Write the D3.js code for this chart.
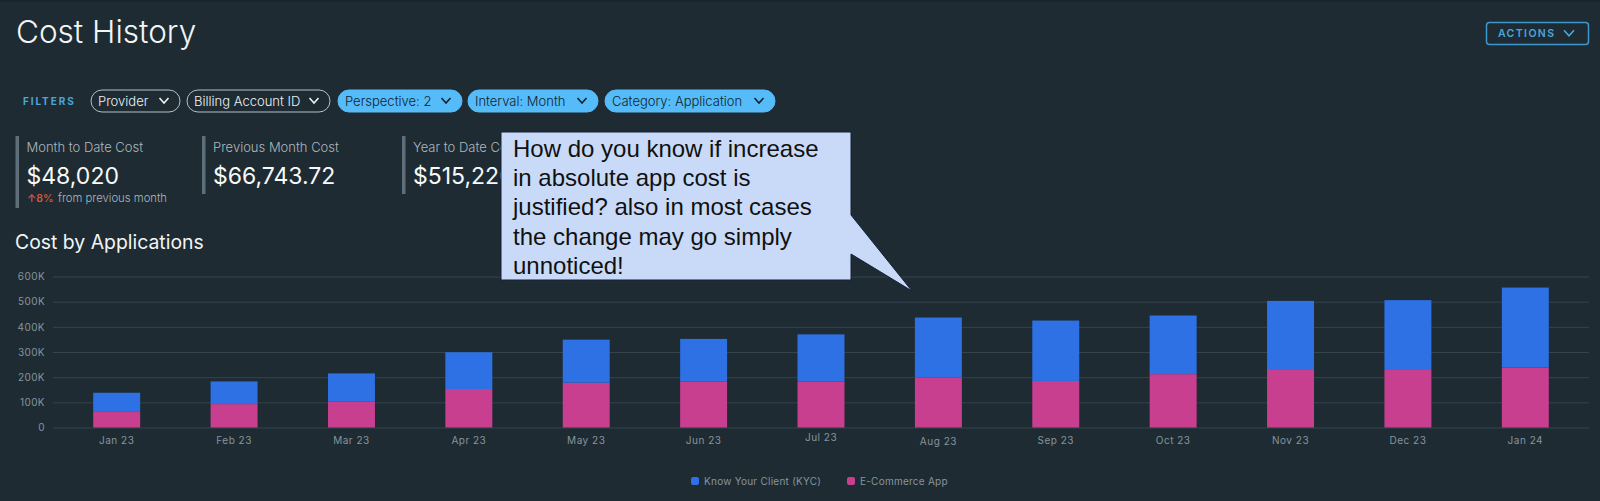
<!DOCTYPE html>
<html><head><meta charset="utf-8">
<script src="https://cdn.jsdelivr.net/npm/d3@7"></script>
<style>html,body{margin:0;padding:0;background:#1e2b33;overflow:hidden}svg{display:block}text{font-family:Inter,"Open Sans",sans-serif}</style>
</head><body><div id="c"></div>
<script>
const months=["Jan 23","Feb 23","Mar 23","Apr 23","May 23","Jun 23","Jul 23","Aug 23","Sep 23","Oct 23","Nov 23","Dec 23","Jan 24"];
const ecommerce=[62,93,104,153,178,182,182,199,185,212,232,232,238];
const kyc=[76,90,111,146,171,170,188,238,240,233,271,274,318];
const seriesNames=["E-Commerce App","Know Your Client (KYC)"];
const seriesColors=["#c93f90","#2e71e5"];
const yTicks=[0,100,200,300,400,500,600];
const filters=[["Provider",false,91,89],["Billing Account ID",false,187,143],["Perspective: 2",true,338,124],["Interval: Month",true,468,130],["Category: Application",true,605,170]];
const kpis=[["Month to Date Cost","$48,020",15.5],["Previous Month Cost","$66,743.72",202],["Year to Date Cost","$515,220",402]];
const calloutLines=["How do you know if increase","in absolute app cost is","justified? also in most cases","the change may go simply","unnoticed!"];

const W=1600,H=501;
const svg=d3.select("#c").append("svg").attr("width",W).attr("height",H);
svg.append("rect").attr("width",W).attr("height",H).attr("fill","#1e2b33");
svg.append("rect").attr("width",W).attr("height",2).attr("fill","#1a262d");

function chev(g,x,y,color,s=5){g.append("path").attr("d",`M${x-s},${y-s*0.55}L${x},${y+s*0.55}L${x+s},${y-s*0.55}`).attr("fill","none").attr("stroke",color).attr("stroke-width",1.6);}

svg.append("text").attr("x",16).attr("y",43).attr("fill","#f2f5f6").attr("font-size",31.5).attr("font-weight",300).text("Cost History");

const act=svg.append("g");
act.append("rect").attr("x",1486.5).attr("y",22.5).attr("width",102).attr("height",22).attr("rx",3).attr("fill","none").attr("stroke","#3f97cf").attr("stroke-width",1.5);
act.append("text").attr("x",1498).attr("y",37).attr("fill","#4aa6dc").attr("font-size",10.5).attr("font-weight",600).attr("letter-spacing",1.4).text("ACTIONS");
chev(act,1569,33,"#4aa6dc",5);

svg.append("text").attr("x",23).attr("y",105).attr("fill","#4aa6dc").attr("font-size",10).attr("font-weight",700).attr("letter-spacing",1.9).text("FILTERS");
filters.forEach(([t,on,x,w])=>{
  const g=svg.append("g");
  g.append("rect").attr("x",x).attr("y",90).attr("width",w).attr("height",22).attr("rx",11)
    .attr("fill",on?"#56bbf9":"none").attr("stroke",on?"#56bbf9":"#b5bfc4").attr("stroke-width",1);
  g.append("text").attr("x",x+7).attr("y",105.5).attr("fill",on?"#10242f":"#eef2f4").attr("font-size",13).attr("font-weight",300).text(t);
  chev(g,x+w-16,100.5,on?"#10242f":"#eef2f4",4.5);
});

kpis.forEach(([l,v,x],i)=>{
  const g=svg.append("g");
  g.append("rect").attr("x",x).attr("y",136).attr("width",3.5).attr("height",i===0?72:58).attr("fill","#5f6f79");
  g.append("text").attr("x",x+11).attr("y",152).attr("fill","#aeb8be").attr("font-size",13).attr("font-weight",300).text(l);
  g.append("text").attr("x",x+11).attr("y",184).attr("fill","#f7f9fa").attr("font-size",23).attr("font-weight",400).text(v);
});
svg.append("text").attr("x",27).attr("y",202).attr("fill","#d0573f").attr("font-size",10.5).attr("font-weight",600).text("↑8%");
svg.append("text").attr("x",58).attr("y",202).attr("fill","#aeb8be").attr("font-size",11.3).attr("font-weight",300).text("from previous month");

svg.append("text").attr("x",15).attr("y",249).attr("fill","#f2f5f6").attr("font-size",19.4).attr("font-weight",400).text("Cost by Applications");

const x=d3.scaleBand().domain(months).range([58,1584]).paddingInner(0.6).paddingOuter(0.3);
const y=d3.scaleLinear().domain([0,600]).range([427.5,276.5]);

const gy=svg.append("g").attr("transform","translate(53,0)")
  .call(d3.axisLeft(y).tickValues(yTicks).tickSize(-1536).tickPadding(8).tickFormat(d=>d?d+"K":"0"));
gy.select(".domain").remove();
gy.selectAll("line").attr("stroke","#33444e").attr("stroke-width",1);
gy.selectAll("text").attr("fill","#87949c").attr("font-size",10).attr("letter-spacing",0.4);

const rows=months.map((m,i)=>({m,"E-Commerce App":ecommerce[i],"Know Your Client (KYC)":kyc[i]}));
const stacked=d3.stack().keys(seriesNames)(rows);
svg.append("g").selectAll("g").data(stacked).join("g").attr("fill",(d,i)=>seriesColors[i])
  .selectAll("rect").data(d=>d).join("rect")
  .attr("x",d=>x(d.data.m)).attr("width",x.bandwidth())
  .attr("y",d=>y(d[1])).attr("height",d=>y(d[0])-y(d[1]));

const gx=svg.append("g").attr("transform","translate(0,427.5)")
  .call(d3.axisBottom(x).tickSize(0).tickPadding(9));
gx.select(".domain").remove();
gx.selectAll("text").attr("fill","#87949c").attr("font-size",10).attr("letter-spacing",0.5)
  .attr("dy",d=>d==="Jul 23"?"0.4em":d==="Aug 23"?"0.85em":"0.71em");

const leg=[["Know Your Client (KYC)",691,1],["E-Commerce App",847,0]];
leg.forEach(([t,lx,i])=>{
  svg.append("rect").attr("x",lx).attr("y",477).attr("width",8).attr("height",8).attr("rx",2).attr("fill",seriesColors[i]);
  svg.append("text").attr("x",lx+13).attr("y",485).attr("fill","#87949c").attr("font-size",10).attr("letter-spacing",0.25).text(t);
});

const co=svg.append("g");
co.append("path").attr("d","M501,132H851V215L912,291L851,254V280H501Z").attr("fill","#c9daf8").attr("stroke","#14203a").attr("stroke-width",1);
co.append("text").selectAll("tspan").data(calloutLines).join("tspan")
  .attr("x",513).attr("y",(d,i)=>157+i*29.2).attr("fill","#111").attr("font-size",24)
  .style("font-family","'Liberation Sans',Arial,sans-serif").text(d=>d);
</script></body></html>
